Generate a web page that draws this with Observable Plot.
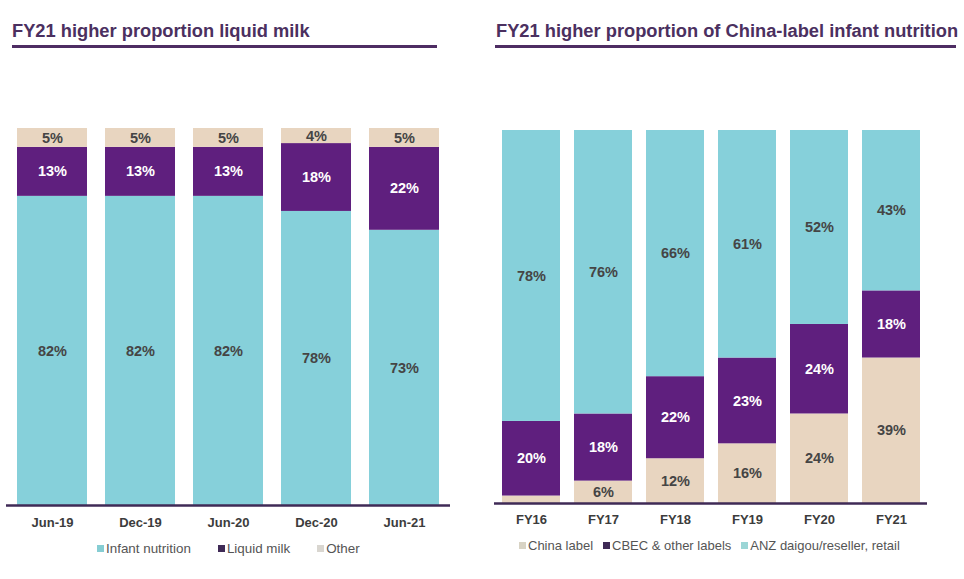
<!DOCTYPE html>
<html>
<head>
<meta charset="utf-8">
<script src="https://cdn.jsdelivr.net/npm/d3@7"></script>
<script src="https://cdn.jsdelivr.net/npm/@observablehq/plot@0.6"></script>
<style>
  html, body { margin: 0; padding: 0; background: #fff; }
  body { width: 964px; height: 579px; position: relative; overflow: hidden;
         font-family: "Liberation Sans", Arial, sans-serif; }
  .title { position: absolute; top: 20px; font-weight: bold; font-size: 18.3px; color: #4b3060;
           white-space: nowrap; line-height: 22px; }
  .rule { position: absolute; top: 45px; height: 3px; background: #4e2d63; }
  .chart { position: absolute; top: 110px; }
  .legend { position: absolute; display: flex; align-items: center; white-space: nowrap;
            font-size: 13.4px; color: #555; }
  .legend .item { display: flex; align-items: center; }
  .legend .sw { width: 7px; height: 7px; margin-right: 2px; display: inline-block; }
</style>
</head>
<body>
<div class="title" style="left:12px">FY21 higher proportion liquid milk</div>
<div class="rule" style="left:12px;width:425px"></div>
<div class="title" style="left:496px">FY21 higher proportion of China-label infant nutrition</div>
<div class="rule" style="left:495px;width:461px"></div>
<div id="left" class="chart" style="left:0px"></div>
<div id="right" class="chart" style="left:480px"></div>
<div id="legendLeft" class="legend" style="left:97px;top:541px;gap:27px"></div>
<div id="legendRight" class="legend" style="left:519px;top:538px;gap:10px;font-size:13px"></div>
<script>
// ---------- Left chart data ----------
const leftCategories = ["Jun-19", "Dec-19", "Jun-20", "Dec-20", "Jun-21"];
const leftSeries = ["Infant nutrition", "Liquid milk", "Other"];
const infantNutrition = [82, 82, 82, 78, 73];
const liquidMilk = [13, 13, 13, 18, 22];
const otherShare = [5, 5, 5, 4, 5];

// ---------- Right chart data ----------
const rightCategories = ["FY16", "FY17", "FY18", "FY19", "FY20", "FY21"];
const rightSeries = ["China label", "CBEC & other labels", "ANZ daigou/reseller, retail"];
const chinaLabel = [2, 6, 12, 16, 24, 39];
const cbecOther = [20, 18, 22, 23, 24, 18];
const anzDaigou = [78, 76, 66, 61, 52, 43];

// ---------- Colours ----------
const teal = "#86d0da", purple = "#5f1f7e", beige = "#e8d5c0";
const leftColors = [teal, purple, beige];
const rightColors = [beige, purple, teal];
const leftLegendColors = ["#86cdd3", "#3f2a56", "#d9d6d0"];
const rightLegendColors = ["#d8d3c4", "#3f2a56", "#9bd6d6"];

function table(categories, series, valuesList) {
  const rows = [];
  series.forEach((s, i) => categories.forEach((c, j) => rows.push({cat: c, series: s, value: valuesList[i][j]})));
  return rows;
}
const leftData = table(leftCategories, leftSeries, [infantNutrition, liquidMilk, otherShare]);
const rightData = table(rightCategories, rightSeries, [chinaLabel, cbecOther, anzDaigou]);

function chart(data, categories, series, colors, opts) {
  const whiteSeries = series[1];
  const lbl = d => d.value >= 4 ? d.value + "%" : null;
  return Plot.plot({
    width: opts.width, height: opts.height,
    marginLeft: opts.ml, marginRight: opts.mr, marginTop: opts.mt, marginBottom: opts.mb,
    style: {fontFamily: "'Liberation Sans', Arial, sans-serif", background: "transparent", overflow: "visible"},
    x: {domain: categories, padding: 0.2, paddingOuter: 0.1, label: null},
    y: {domain: [0, 100], axis: null},
    color: {domain: series, range: colors},
    marks: [
      Plot.barY(data, {x: "cat", y: "value", fill: "series", z: "series"}),
      Plot.text(data, Plot.stackY({x: "cat", y: "value", z: "series",
        text: d => d.series === whiteSeries ? lbl(d) : null,
        fill: "white", fontWeight: "bold", fontSize: 14.5})),
      Plot.text(data, Plot.stackY({x: "cat", y: "value", z: "series",
        text: d => d.series !== whiteSeries ? lbl(d) : null,
        fill: "#454545", fontWeight: "bold", fontSize: 14.5})),
      Plot.ruleY([0], {stroke: "#3f2a56", strokeWidth: 2.5}),
      Plot.axisX({tickSize: 0, tickPadding: opts.tp, fontWeight: "bold", fontSize: 13, fill: "#3c3c3c"})
    ]
  });
}

document.getElementById("left").append(chart(leftData, leftCategories, leftSeries, leftColors,
  {width: 460, height: 425, ml: 6, mr: 10, mt: 18, mb: 30, tp: 12}));
document.getElementById("right").append(chart(rightData, rightCategories, rightSeries, rightColors,
  {width: 484, height: 425, ml: 14, mr: 37, mt: 20, mb: 32, tp: 11}));

function legend(id, series, colors) {
  const el = document.getElementById(id);
  series.forEach((s, i) => {
    const item = document.createElement("span");
    item.className = "item";
    const sw = document.createElement("span");
    sw.className = "sw";
    sw.style.background = colors[i];
    item.append(sw, document.createTextNode(s));
    el.append(item);
  });
}
legend("legendLeft", leftSeries, leftLegendColors);
legend("legendRight", rightSeries, rightLegendColors);
</script>
</body>
</html>
